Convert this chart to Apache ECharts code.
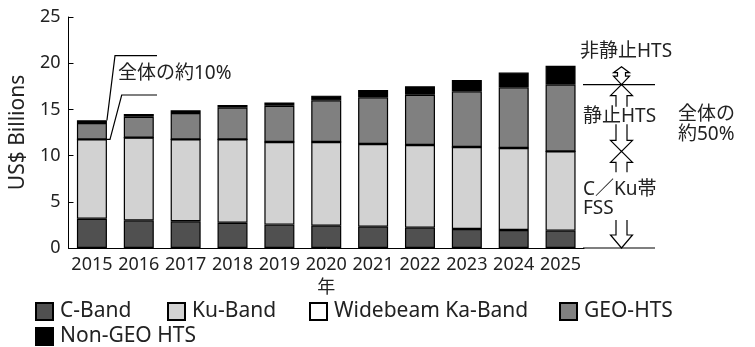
<!DOCTYPE html>
<html><head><meta charset="utf-8">
<script src="https://cdn.jsdelivr.net/npm/echarts@6/dist/echarts.min.js"></script>
<style>html,body{margin:0;padding:0;background:#fff;}#c{width:755px;height:347px;}</style>
</head><body><div id="c"></div>
<script>
const years = ['2015','2016','2017','2018','2019','2020','2021','2022','2023','2024','2025'];
const cBand = [3.17, 2.99, 2.89, 2.74, 2.53, 2.42, 2.31, 2.20, 2.06, 1.95, 1.88];
const kuBand = [8.59, 8.95, 8.87, 9.02, 8.94, 9.05, 8.95, 8.95, 8.87, 8.87, 8.58];
const widebeamKa = [0, 0, 0, 0, 0, 0, 0, 0, 0, 0, 0];
const geoHts = [1.77, 2.27, 2.85, 3.43, 3.93, 4.51, 5.05, 5.44, 6.03, 6.57, 7.22];
const nonGeoHts = [0.29, 0.29, 0.29, 0.29, 0.36, 0.51, 0.79, 0.91, 1.22, 1.59, 2.05];
const yTicks = [0, 5, 10, 15, 20, 25];

const FONT = "'Noto Sans', 'Noto Sans CJK JP', sans-serif";
const TXT = '#222';
const names = ['C-Band','Ku-Band','Widebeam Ka-Band','GEO-HTS','Non-GEO HTS'];
const colors = ['#505050','#d2d2d2','#ffffff','#808080','#000000'];
const seriesData = [cBand, kuBand, widebeamKa, geoHts, nonGeoHts];

const chart = echarts.init(document.getElementById('c'));
const legendPos = [[35,301],[167,301],[309,301],[559,301],[35,326]];
const option = {
  animation: false,
  backgroundColor: '#fff',
  textStyle: {fontFamily: FONT, color: TXT},
  grid: {left: 64, right: 171, top: 17, bottom: 99},
  legend: names.map((n,i)=>({
    data: [n], left: legendPos[i][0], top: legendPos[i][1], padding: 0,
    itemWidth: 17, itemHeight: 17, itemGap: 0,
    icon: 'rect',
    textStyle: {fontFamily: FONT, fontSize: 21, color: TXT, padding: [0,0,0,2]}
  })),
  xAxis: {
    type: 'category', data: years,
    name: '年', nameLocation: 'middle', nameGap: 30,
    nameTextStyle: {fontFamily: FONT, fontSize: 18, color: TXT},
    axisLine: {lineStyle: {color: '#000', width: 1}},
    axisTick: {show: false},
    axisLabel: {fontFamily: FONT, fontSize: 18, color: TXT, margin: 8, interval: 0, hideOverlap: false}
  },
  yAxis: {
    type: 'value', min: yTicks[0], max: yTicks[yTicks.length-1], interval: 5,
    name: 'US$ Billions', nameLocation: 'middle', nameGap: 31,
    nameTextStyle: {fontFamily: FONT, fontSize: 21, color: TXT},
    axisLine: {show: true, lineStyle: {color: '#000', width: 1}},
    axisTick: {show: true, inside: true, length: 5, lineStyle: {color: '#000'}},
    axisLabel: {fontFamily: FONT, fontSize: 18, color: TXT, margin: 8},
    splitLine: {show: false}
  },
  series: names.map((n,i)=>({
    name: n, type: 'bar', stack: 'total', barWidth: 30,
    data: seriesData[i],
    itemStyle: {color: colors[i], borderColor: '#000', borderWidth: 1.2}
  }))
};
chart.setOption(option);

function px(idx, val){ return chart.convertToPixel({gridIndex:0}, [idx, val]); }
function cum(idx, n){ let s=0; for(let k=0;k<n;k++) s+=seriesData[k][idx]; return s; }

const last = years.length-1;
const cx = 621.5;
const yTop = px(last, cum(last,5))[1];
const yGeo = px(last, cum(last,4))[1];
const yKu = px(last, cum(last,2))[1];
const yZero = px(last, 0)[1];
const barR = px(0,0)[0] + 15;
const y15top = px(0, cum(0,5))[1];
const y15ku = px(0, cum(0,2))[1];

const lineStyle = {stroke: '#000', lineWidth: 1.2, fill: null};
function arrow(tipY, baseY, tailY){
  const sw = 5.5, hw = 11;
  return {type:'polyline', shape:{points:[[cx-sw,tailY],[cx-sw,baseY],[cx-hw,baseY],[cx,tipY],[cx+hw,baseY],[cx+sw,baseY],[cx+sw,tailY]]}, style: lineStyle};
}
function txt(x,y,t,extra){
  return Object.assign({type:'text', x:x, y:y, style:{text:t, font:"19px 'Noto Sans','Noto Sans CJK JP',sans-serif", fill:TXT, verticalAlign:'middle'}}, extra||{});
}
const graphic = [
  {type:'polyline', shape:{points:[[barR, y15top],[115,55.7],[157,55.7]]}, style: lineStyle},
  {type:'polyline', shape:{points:[[barR, y15ku],[110, y15ku],[121.7,95],[157,95]]}, style: lineStyle},
  txt(118, 74, '全体の約10%'),
  {type:'line', shape:{x1:583, y1:yGeo, x2:655, y2:yGeo}, style:{stroke:'#000', lineWidth:1.2}},
  {type:'line', shape:{x1:583, y1:yZero, x2:655, y2:yZero}, style:{stroke:'#000', lineWidth:1.2}},
  {type:'polygon', shape:{points:[[cx,yTop+1],[cx+8,yTop+7],[cx+4,yTop+7],[cx+4,yTop+10.5],[cx+8,yTop+10.5],[cx,yGeo],[cx-8,yTop+10.5],[cx-4,yTop+10.5],[cx-4,yTop+7],[cx-8,yTop+7]]}, style:{stroke:'#000', lineWidth:1.2, fill:'#fff'}},
  arrow(yGeo, yGeo+11, yGeo+22),
  arrow(yKu, yKu-11, yKu-27),
  arrow(yKu, yKu+11, yKu+21),
  arrow(yZero, yZero-13, yZero-28),
  txt(580, 51.7, '非静止HTS'),
  txt(583, 116.7, '静止HTS'),
  txt(678, 115, '全体の'),
  txt(678, 135, '約50%'),
  txt(583, 190, 'C／Ku帯'),
  txt(583, 209, 'FSS')
];
chart.setOption({graphic: graphic});
</script>
</body></html>
